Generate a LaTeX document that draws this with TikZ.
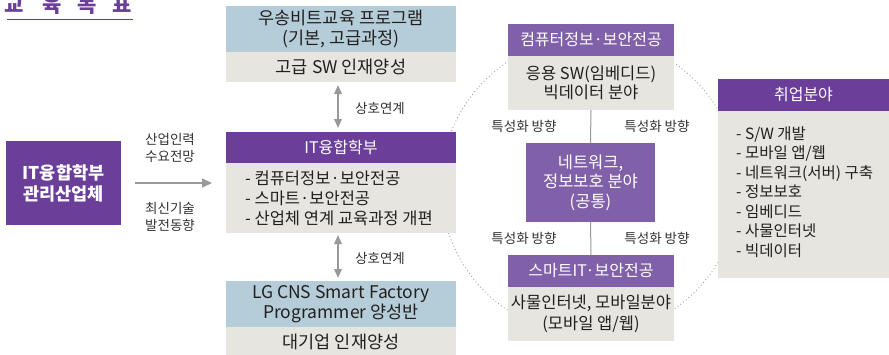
\documentclass[tikz,border=0pt]{standalone}
\usepackage{fontspec}
\setmainfont{Noto Sans CJK KR}
\usetikzlibrary{arrows.meta}
\definecolor{pdark}{HTML}{6B3F99}
\definecolor{plight}{HTML}{8061A9}
\definecolor{bluebox}{HTML}{B5CDD8}
\definecolor{graybox}{HTML}{E6E5DF}
\definecolor{txt}{HTML}{231F20}
\definecolor{lbl}{HTML}{333333}
\definecolor{arrgray}{HTML}{999999}
\tikzset{
  boxbase/.style={rectangle, inner sep=0pt, outer sep=0pt, align=center},
  darkhdr/.style={boxbase, fill=pdark, text=white, font=\fontsize{16}{20}\selectfont},
  lighthdr/.style={boxbase, fill=plight, text=white, font=\fontsize{16}{20}\selectfont},
  bluepart/.style={boxbase, fill=bluebox, text=txt, font=\fontsize{17.5}{20}\selectfont},
  graypart/.style={boxbase, fill=graybox, text=txt, font=\fontsize{17.5}{20}\selectfont},
  lbltext/.style={inner sep=0pt, align=center, text=lbl, font=\fontsize{13.5}{16.5}\selectfont},
  itemtext/.style={inner sep=0pt, align=left, text=txt},
  flowarrow/.style={draw=arrgray, line width=1.6pt, -{Triangle[length=10pt,width=9pt]}},
  linkarrow/.style={draw=arrgray, line width=1.6pt, {Triangle[length=9pt,width=7.5pt]}-{Triangle[length=9pt,width=7.5pt]}},
  thinline/.style={draw=arrgray, line width=1pt},
  titlechar/.style={inner sep=0pt, anchor=base, text=pdark, font=\fontsize{21}{21}\selectfont\bfseries}
}
\begin{document}
\begin{tikzpicture}[x=1pt,y=-1pt]
\useasboundingbox (0,0) rectangle (889,354);
% dotted circle behind
\draw[arrgray, line width=1.2pt, line cap=round, dash pattern=on 0pt off 3.5pt] (590,186) circle[radius=149];

% title
\node[titlechar] (t1) at (14.5,12.5) {교};
\node[titlechar] (t2) at (52.5,12.5) {육};
\node[titlechar] (t3) at (87.5,12.5) {목};
\node[titlechar] (t4) at (122.5,12.5) {표};
\draw[pdark, line width=1.4pt] (7,19.5) -- (133,19.5);

% left box
\node[boxbase, fill=pdark, text=white, minimum width=115pt, minimum height=84pt,
      font=\fontsize{17.5}{21}\selectfont\bfseries] (lb) at (63.5,183) {IT융합학부\\관리산업체};

% top box
\node[bluepart, minimum width=230pt, minimum height=46pt] (topblue) at (341,29) {우송비트교육 프로그램\\(기본, 고급과정)};
\node[graypart, minimum width=230pt, minimum height=30pt] (topgray) at (341,67) {고급 SW 인재양성};

% IT box
\node[darkhdr, minimum width=230pt, minimum height=31pt] (ithdr) at (341,147.5) {IT융합학부};
\node[graypart, minimum width=230pt, minimum height=70pt] (itbody) at (341,198) {};
\node[itemtext, anchor=west, font=\fontsize{16.5}{20}\selectfont] (ititems) at (245,198)
  {- 컴퓨터정보·보안전공\\- 스마트·보안전공\\- 산업체 연계 교육과정 개편};

% bottom box
\node[bluepart, minimum width=230pt, minimum height=46pt] (botblue) at (341,304) {LG CNS Smart Factory\\Programmer 양성반};
\node[graypart, minimum width=230pt, minimum height=30pt] (botgray) at (341,342) {대기업 인재양성};

% left arrow and labels
\draw[flowarrow, shorten <=14pt, shorten >=14pt] (lb.east) -- (itbody.west |- lb.east);
\node[lbltext] (lab1) at (170,148) {산업인력\\수요전망};
\node[lbltext] (lab2) at (170,217) {최신기술\\발전동향};

% link arrows
\coordinate (a1s) at (338,82);
\coordinate (a1e) at (338,132);
\draw[linkarrow, shorten <=3pt, shorten >=4pt] (a1s) -- (a1e);
\node[lbltext] (lk1) at (380,108) {상호연계};
\coordinate (a2s) at (338,233);
\coordinate (a2e) at (338,281);
\draw[linkarrow, shorten <=2pt, shorten >=3pt] (a2s) -- (a2e);
\node[lbltext] (lk2) at (380,258) {상호연계};

% right column
\node[lighthdr, minimum width=166pt, minimum height=32pt] (cshdr) at (591,40) {컴퓨터정보·보안전공};
\node[graypart, minimum width=166pt, minimum height=54pt, font=\fontsize{16.5}{19}\selectfont] (csbody) at (591,83) {응용 SW(임베디드)\\빅데이터 분야};
\node[lighthdr, minimum width=129pt, minimum height=79pt, font=\fontsize{16.5}{19.5}\selectfont] (net) at (590.5,182.5) {네트워크,\\정보보호 분야\\(공통)};
\node[lighthdr, minimum width=166pt, minimum height=32pt] (smhdr) at (591,271) {스마트IT·보안전공};
\node[graypart, minimum width=166pt, minimum height=54pt, font=\fontsize{16.5}{20.5}\selectfont] (smbody) at (591,314) {사물인터넷, 모바일분야\\(모바일 앱/웹)};
\draw[thinline] (csbody.south) -- (net.north);
\draw[thinline] (net.south) -- (smhdr.north);
\node[lbltext] (sp1) at (524,126) {특성화 방향};
\node[lbltext] (sp2) at (657,126) {특성화 방향};
\node[lbltext] (sp3) at (524,238) {특성화 방향};
\node[lbltext] (sp4) at (657,238) {특성화 방향};

% job box
\node[darkhdr, minimum width=171pt, minimum height=32pt] (jobhdr) at (803.5,95) {취업분야};
\node[graypart, minimum width=171pt, minimum height=167pt] (jobbody) at (803.5,194.5) {};
\node[itemtext, anchor=west, font=\fontsize{15.5}{19.5}\selectfont] (jobitems) at (736,192)
  {- S/W 개발\\- 모바일 앱/웹\\- 네트워크(서버) 구축\\- 정보보호\\- 임베디드\\- 사물인터넷\\- 빅데이터};
\end{tikzpicture}
\end{document}
